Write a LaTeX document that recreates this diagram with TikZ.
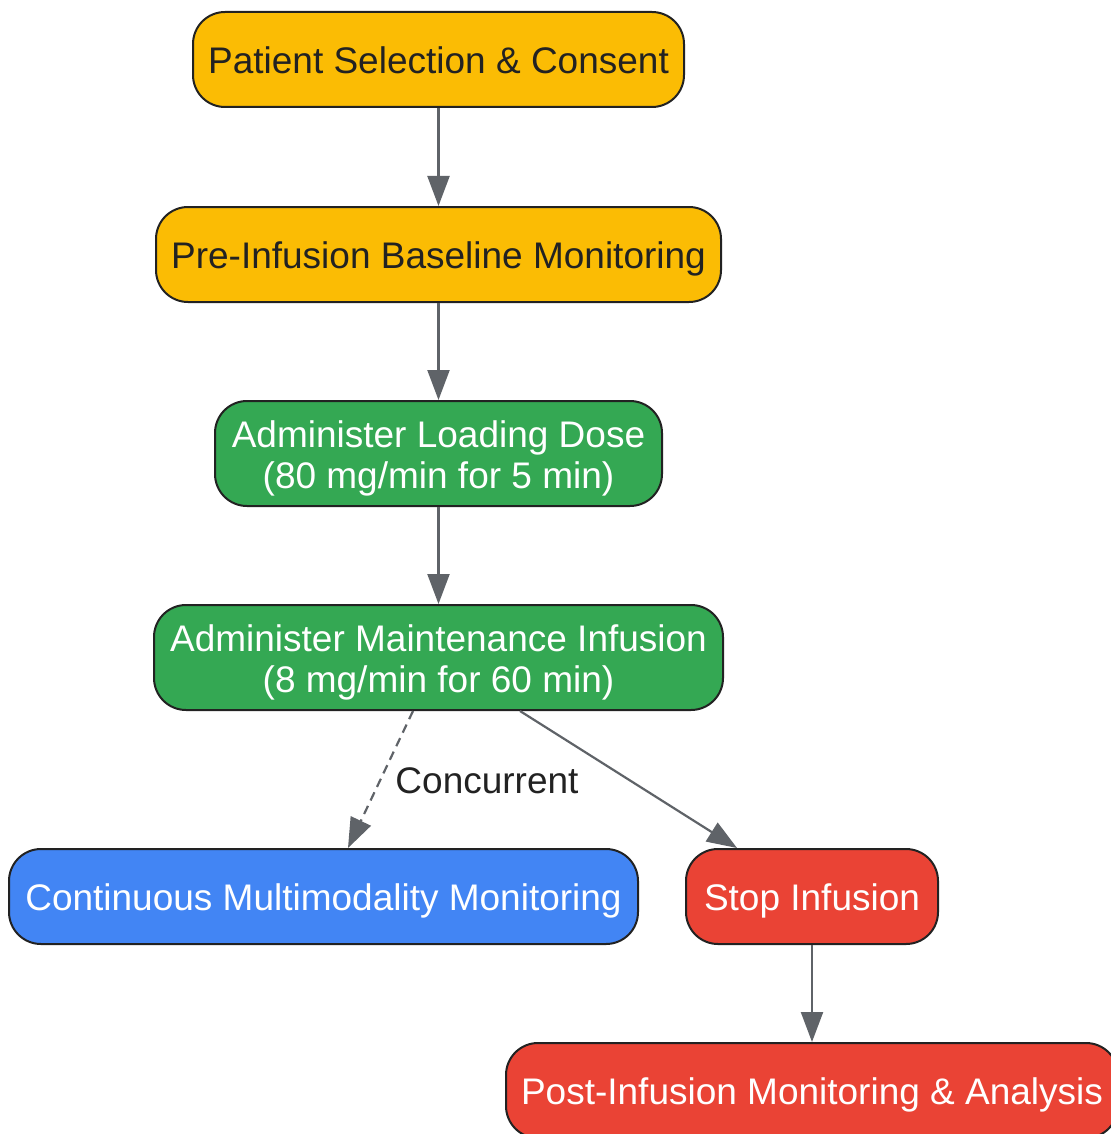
\documentclass[tikz,border=0pt]{standalone}
\usepackage{fontspec}
\setmainfont{Liberation Sans}
\usetikzlibrary{arrows.meta}
\definecolor{yel}{HTML}{FBBC04}
\definecolor{grn}{HTML}{34A853}
\definecolor{blu}{HTML}{4285F4}
\definecolor{rd}{HTML}{EA4335}
\definecolor{edgec}{HTML}{5F6368}
\definecolor{ink}{HTML}{222222}
\newcommand\boxtxt[1]{\raisebox{-6pt}[\height][\depth]{\begin{tabular}{@{}c@{}}#1\end{tabular}}}
\begin{document}
\begin{tikzpicture}[x=1pt,y=-1pt,
  box/.style={draw=ink, line width=2pt, rounded corners=32pt, align=center,
    font=\fontsize{37}{41.6}\selectfont, inner sep=0pt},
  ybox/.style={box, fill=yel, text=ink},
  gbox/.style={box, fill=grn, text=white},
  bbox/.style={box, fill=blu, text=white},
  rbox/.style={box, fill=rd, text=white},
  conn/.style={draw=edgec, line width=2.2pt, -{Triangle[length=30pt,width=22pt]}},
  lbl/.style={text=ink, font=\fontsize{37}{42}\selectfont, inner sep=0pt}]
\useasboundingbox (0,0) rectangle (1110,1134);
\node[ybox, minimum width=491pt, minimum height=95pt] (n1) at (438.5,59.5) {\boxtxt{Patient Selection \& Consent}};
\node[ybox, minimum width=565pt, minimum height=95pt] (n2) at (438.5,254.5) {\boxtxt{Pre-Infusion Baseline Monitoring}};
\node[gbox, minimum width=447pt, minimum height=105pt] (n3) at (438.5,453.5) {\boxtxt{Administer Loading Dose\\(80 mg/min for 5 min)}};
\node[gbox, minimum width=569pt, minimum height=105pt] (n4) at (438.5,657.5) {\boxtxt{Administer Maintenance Infusion\\(8 mg/min for 60 min)}};
\node[bbox, minimum width=629pt, minimum height=95pt] (n5) at (323.5,896.5) {\boxtxt{Continuous Multimodality Monitoring}};
\node[rbox, minimum width=252pt, minimum height=95pt] (n6) at (812,896.5) {\boxtxt{Stop Infusion}};
\node[rbox, minimum width=612pt, minimum height=95pt] (n7) at (812,1090.5) {\boxtxt{Post-Infusion Monitoring \& Analysis}};
\draw[conn] (n1.south) -- (n2.north);
\draw[conn] (n2.south) -- (n3.north);
\draw[conn] (n3.south) -- (n4.north);
\draw[conn, dash pattern=on 9pt off 6pt] ([xshift=-25.5pt]n4.south) -- ([xshift=24.5pt]n5.north);
\draw[conn] ([xshift=81.5pt]n4.south) -- ([xshift=-75pt]n6.north);
\draw[conn] (n6.south) -- (n7.north);
\node[lbl] (c) at (487,781) {Concurrent};
\end{tikzpicture}
\end{document}
